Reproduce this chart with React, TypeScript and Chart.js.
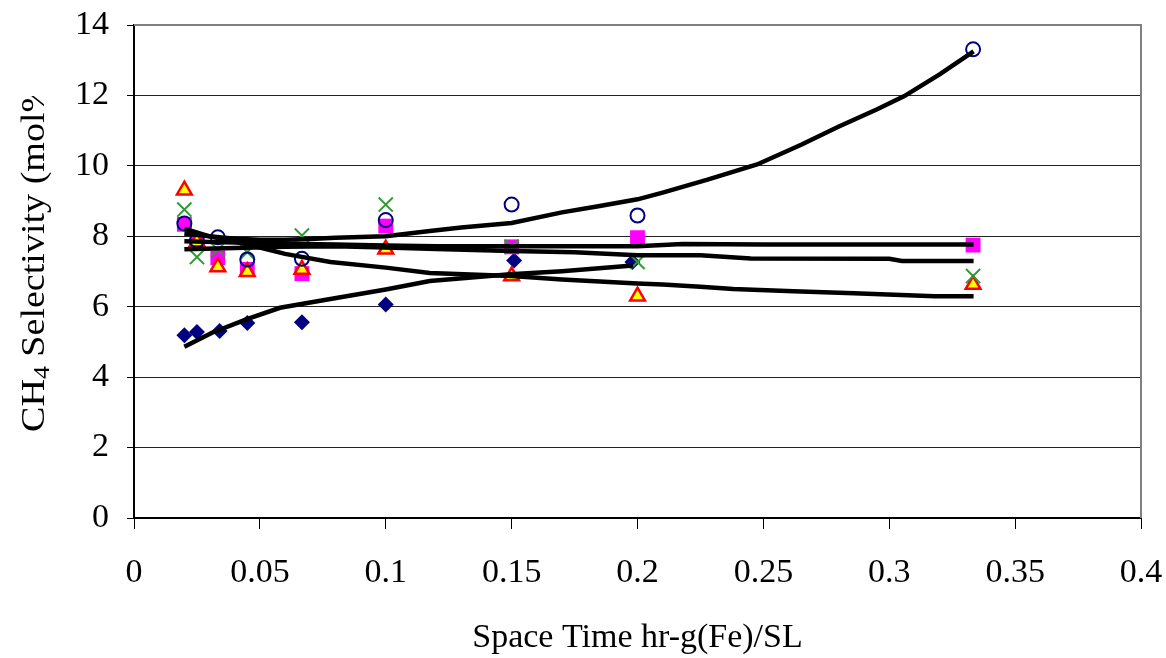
import React, { useEffect, useRef } from "react";
import { Chart, registerables } from "chart.js";

Chart.register(...registerables);

// ---------- data ----------
const spaceTime = [0.02, 0.025, 0.0333, 0.045, 0.0667, 0.1, 0.15, 0.2, 0.3333];
const diamondX = [0.02, 0.025, 0.034, 0.045, 0.0667, 0.1, 0.151, 0.198];
const diamondY = [5.19, 5.28, 5.31, 5.54, 5.56, 6.06, 7.31, 7.27];
const squareY = [8.34, 7.88, 7.39, 7.06, 6.94, 8.29, 7.7, 7.96, 7.75];
const triangleY = [9.31, 7.84, 7.13, 6.99, 7.06, 7.63, 6.87, 6.3, 6.63];
const crossY = [8.76, 7.41, 7.62, 7.55, 8.02, 8.9, 7.7, 7.27, 6.87];
const circleY = [8.36, 7.88, 7.97, 7.34, 7.36, 8.46, 8.9, 8.59, 13.31];

const circleFitX = [0.02, 0.03, 0.04, 0.05, 0.06, 0.07, 0.08, 0.1, 0.1175, 0.13, 0.15, 0.17, 0.185, 0.2, 0.21, 0.2275, 0.2475, 0.265, 0.28, 0.295, 0.306, 0.32, 0.3335];
const circleFitY = [8.08, 8.0, 7.93, 7.9, 7.9, 7.92, 7.96, 8.0, 8.15, 8.25, 8.38, 8.68, 8.86, 9.05, 9.24, 9.6, 10.04, 10.6, 11.12, 11.6, 11.98, 12.6, 13.25];

const squareFitX = [0.02, 0.04, 0.06, 0.08, 0.1, 0.12, 0.15, 0.2, 0.218, 0.25, 0.3335];
const squareFitY = [7.86, 7.82, 7.79, 7.77, 7.74, 7.72, 7.72, 7.72, 7.78, 7.77, 7.77];

const crossFitX = [0.02, 0.04, 0.06, 0.08, 0.1, 0.12, 0.15, 0.175, 0.2, 0.225, 0.245, 0.3, 0.305, 0.3335];
const crossFitY = [7.63, 7.67, 7.7, 7.72, 7.68, 7.64, 7.58, 7.55, 7.46, 7.46, 7.37, 7.36, 7.3, 7.3];

const triangleFitX = [0.02, 0.03, 0.04, 0.05, 0.06, 0.078, 0.1, 0.1175, 0.15, 0.17, 0.2, 0.21, 0.225, 0.238, 0.262, 0.286, 0.318, 0.3335];
const triangleFitY = [8.22, 8.0, 7.85, 7.68, 7.5, 7.27, 7.11, 6.96, 6.87, 6.77, 6.66, 6.63, 6.57, 6.5, 6.44, 6.38, 6.3, 6.3];

const diamondFitX = [0.02, 0.031, 0.0446, 0.058, 0.078, 0.1, 0.1175, 0.1494, 0.17, 0.1982];
const diamondFitY = [4.86, 5.26, 5.64, 5.97, 6.22, 6.49, 6.73, 6.92, 7.01, 7.17];

const xTickLabels = ["0", "0.05", "0.1", "0.15", "0.2", "0.25", "0.3", "0.35", "0.4"];
const yTickLabels = ["0", "2", "4", "6", "8", "10", "12", "14"];

const xTitle = "Space Time hr-g(Fe)/SL";
const yTitleMain = "CH";
const yTitleSub = "4";
const yTitleRest = " Selectivity (mol%";

const FONT = "'Liberation Serif', 'Times New Roman', serif";

const pts = (xs: number[], ys: number[]) => xs.map((x, i) => ({ x, y: ys[i] }));

const decorPlugin = {
  id: "decor",
  afterDraw(chart: any) {
    const { ctx, chartArea } = chart;
    const { left, right, top, bottom } = chartArea;
    ctx.save();
    ctx.strokeStyle = "#808080";
    ctx.lineWidth = 2;
    ctx.beginPath();
    ctx.moveTo(left, top);
    ctx.lineTo(right, top);
    ctx.lineTo(right, bottom);
    ctx.stroke();
    ctx.fillStyle = "#000";
    ctx.font = `34px ${FONT}`;
    ctx.textAlign = "center";
    ctx.textBaseline = "alphabetic";
    ctx.fillText(xTitle, (left + right) / 2, 647);
    ctx.restore();

    ctx.save();
    ctx.beginPath();
    ctx.rect(0, 96, 120, 560);
    ctx.clip();
    ctx.translate(35, 432);
    ctx.rotate(-Math.PI / 2);
    ctx.scale(1.12, 1);
    ctx.fillStyle = "#000";
    ctx.textAlign = "left";
    ctx.textBaseline = "middle";
    let x = 0;
    ctx.font = `34px ${FONT}`;
    ctx.fillText(yTitleMain, x, 0);
    x += ctx.measureText(yTitleMain).width;
    ctx.font = `23px ${FONT}`;
    ctx.fillText(yTitleSub, x, 8);
    x += ctx.measureText(yTitleSub).width;
    ctx.font = `34px ${FONT}`;
    ctx.fillText(yTitleRest, x, 0);
    ctx.restore();
  },
};

export default function App() {
  const ref = useRef<HTMLCanvasElement>(null);

  useEffect(() => {
    if (!ref.current) return;
    const lineDs = (xs: number[], ys: number[]) => ({
      type: "line" as const,
      data: pts(xs, ys),
      showLine: true,
      borderColor: "#000",
      borderWidth: 4.5,
      pointRadius: 0,
      tension: 0,
      fill: false,
      order: 0,
    });
    const chart = new Chart(ref.current, {
      type: "scatter",
      data: {
        datasets: [
          lineDs(circleFitX, circleFitY),
          lineDs(squareFitX, squareFitY),
          lineDs(crossFitX, crossFitY),
          lineDs(triangleFitX, triangleFitY),
          lineDs(diamondFitX, diamondFitY),
          {
            data: pts(spaceTime, circleY),
            pointStyle: "circle",
            pointRadius: 7,
            backgroundColor: "rgba(0,0,0,0)",
            borderColor: "#000080",
            borderWidth: 2,
            order: 1,
          },
          {
            data: pts(spaceTime, crossY),
            pointStyle: "crossRot",
            pointRadius: 10,
            borderColor: "#339933",
            borderWidth: 2,
            order: 2,
          },
          {
            data: pts(spaceTime, triangleY),
            pointStyle: "triangle",
            pointRadius: 8.5,
            backgroundColor: "#FFFF00",
            borderColor: "#FF0000",
            borderWidth: 2.5,
            order: 3,
          },
          {
            data: pts(spaceTime, squareY),
            pointStyle: "rect",
            pointRadius: 10.5,
            backgroundColor: "#FF00FF",
            borderColor: "#FF00FF",
            borderWidth: 0,
            order: 4,
          },
          {
            data: pts(diamondX, diamondY),
            pointStyle: "rectRot",
            pointRadius: 8,
            backgroundColor: "#000080",
            borderColor: "#000080",
            borderWidth: 0,
            order: 5,
          },
        ] as any,
      },
      options: {
        animation: false,
        responsive: true,
        maintainAspectRatio: false,
        layout: { padding: { top: 25, right: 25, left: 0, bottom: 0 } },
        plugins: { legend: { display: false }, tooltip: { enabled: false } },
        scales: {
          x: {
            type: "linear",
            min: 0,
            max: 0.4,
            afterFit: (s: any) => {
              s.height = 140;
              s.paddingLeft = 0;
              s.paddingRight = 0;
            },
            ticks: {
              stepSize: 0.05,
              color: "#000",
              font: { family: FONT, size: 34 },
              padding: 24,
              maxRotation: 0,
              autoSkip: false,
              callback: (_v: any, i: number) => xTickLabels[i],
            },
            grid: {
              drawOnChartArea: false,
              drawTicks: true,
              tickLength: 11,
              tickColor: "#000",
              lineWidth: 1,
            },
            border: { color: "#000", width: 2 },
          },
          y: {
            type: "linear",
            min: 0,
            max: 14,
            afterFit: (s: any) => {
              s.width = 134;
              s.paddingTop = 0;
              s.paddingBottom = 0;
            },
            ticks: {
              stepSize: 2,
              color: "#000",
              font: { family: FONT, size: 34 },
              padding: 18,
              callback: (_v: any, i: number) => yTickLabels[i],
            },
            grid: {
              color: "#222",
              lineWidth: 1,
              drawTicks: true,
              tickLength: 7,
              tickColor: "#000",
            },
            border: { color: "#000", width: 2 },
          },
        },
      },
      plugins: [decorPlugin],
    });
    return () => chart.destroy();
  }, []);

  return (
    <div style={{ position: "fixed", left: 0, top: 0, width: 1166, height: 658, background: "#fff" }}>
      <canvas ref={ref} />
    </div>
  );
}
